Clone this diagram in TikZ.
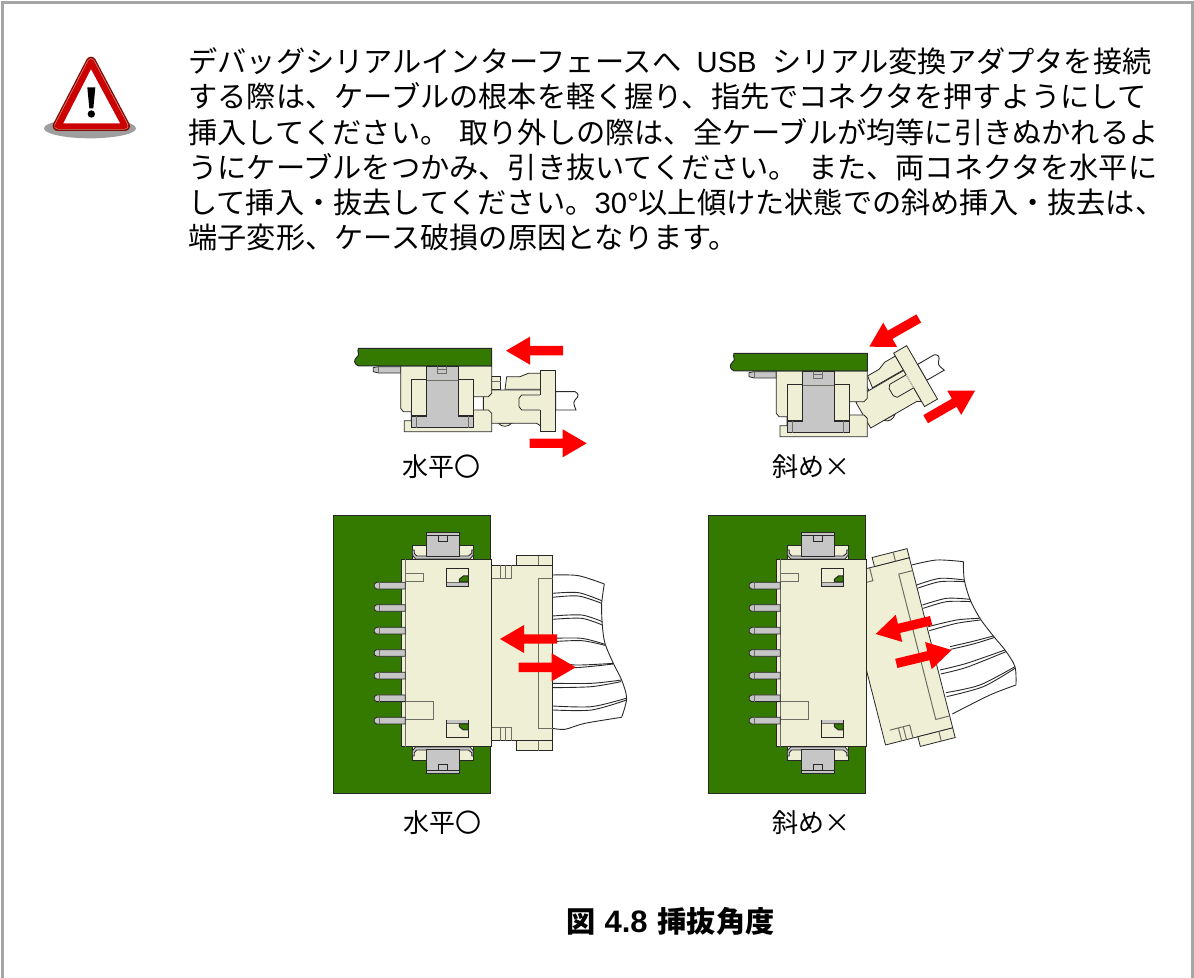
\documentclass[tikz,border=0pt]{standalone}
\usepackage{fontspec}
\setmainfont{Noto Sans CJK JP}
\newfontfamily\latinfont{Liberation Sans}
\XeTeXlinebreaklocale "ja"
\XeTeXlinebreakskip=0pt plus 0.5pt minus 0.3pt
\definecolor{boardgreen}{RGB}{53,122,0}
\definecolor{housing}{RGB}{239,239,214}
\definecolor{metal}{RGB}{198,198,198}
\definecolor{edge}{RGB}{40,40,40}
\definecolor{softedge}{RGB}{110,110,100}
\definecolor{warnred}{RGB}{204,0,0}
\definecolor{warndark}{RGB}{130,10,10}
\definecolor{warntan}{RGB}{214,130,100}
\definecolor{shadowgray}{RGB}{158,158,158}
\definecolor{framegray}{RGB}{165,165,165}
\tikzset{
pcb/.style={draw=edge,fill=boardgreen,line width=0.5pt},
body/.style={draw=edge,fill=housing,line width=0.4pt},
pinpart/.style={draw=edge,fill=metal,line width=0.4pt},
soft/.style={draw=softedge,line width=0.5pt},
wire/.style={draw=edge,line width=0.45pt},
bodyline/.style={anchor=base west,inner sep=0pt,font=\fontsize{14.6pt}{17pt}\selectfont},
partlabel/.style={anchor=base,inner sep=0pt,font=\fontsize{13pt}{15pt}\selectfont},
redarrow/.pic={
  \fill[red] (0,0) -- (24,-14) -- (24,-4.7) -- (57,-4.7) -- (57,4.7) -- (24,4.7) -- (24,14) -- cycle;
  },
warnsign/.pic={
  \fill[shadowgray] (180,265) ellipse [x radius=138,y radius=30];
  \draw[warndark,line join=round,line width=5pt] (183,65) -- (83,258) -- (285,258) -- cycle;
  \draw[warntan,line join=round,line width=3.6pt] (183,65) -- (83,258) -- (285,258) -- cycle;
  \draw[warnred,fill=warnred,line join=round,line width=2.8pt] (183,65) -- (83,258) -- (285,258) -- cycle;
  \fill[white] (183,88) -- (100,250) -- (270,250) -- cycle;
  \fill[black] (172,142) -- (196,142) -- (190,205) -- (178,205) -- cycle;
  \fill[black] (184,222) circle [radius=11];
  },
plugtop/.pic={
  \draw[body] (-208,0) -- (0,0) -- (0,527) -- (-208,527) -- cycle;
  \draw[body] (-108,-28) -- (0,-28) -- (0,0) -- (-108,0) -- cycle;
  \draw[body] (-108,527) -- (0,527) -- (0,557) -- (-108,557) -- cycle;
  \draw[soft] (-43,-28) -- (-43,0);
  \draw[soft] (-43,527) -- (-43,557);
  \draw[soft] (0,40) -- (-43,40) -- (-43,490) -- (0,490);
  \draw[soft] (-185,40) -- (-123,40) -- (-123,0);
  \draw[soft] (-158,0) -- (-158,40);
  \draw[soft] (-143,0) -- (-143,40);
  \draw[soft] (-185,487) -- (-123,487) -- (-123,527);
  \draw[soft] (-158,487) -- (-158,527);
  \draw[soft] (-143,487) -- (-143,527);
  },
headertop/.pic={
  \draw[pcb] (25,18) rectangle (498,850);
  \draw[body] (262,107) rectangle (445,148);
  \draw[body] (262,710) rectangle (445,751);
  \draw[pinpart] (262,120) -- (262,135) -- (272,147) -- (435,147) -- (445,135) -- (445,120) -- (440,120) -- (440,130) -- (430,138) -- (275,138) -- (268,130) -- (268,120) -- cycle;
  \draw[pinpart] (262,738) -- (262,723) -- (272,711) -- (435,711) -- (445,723) -- (445,738) -- (440,738) -- (440,728) -- (430,720) -- (275,720) -- (268,728) -- (268,738) -- cycle;
  \draw[pinpart] (305,68) rectangle (403,140);
  \draw[pinpart] (305,68) rectangle (403,76);
  \draw[pinpart] (340,76) rectangle (366,94);
  \draw[pinpart] (305,718) rectangle (403,790);
  \draw[pinpart] (305,782) rectangle (403,790);
  \draw[pinpart] (340,764) rectangle (366,782);
  \draw[body] (230,148) rectangle (498,710);
  \draw[soft] (241,148) -- (241,710);
  \draw[soft] (242,190) -- (295,190) -- (295,214) -- (242,214);
  \draw[soft] (242,574) -- (327,574) -- (327,630) -- (242,630);
  \foreach \pinpos in {227,294,362,429,497,565,632} {
    \draw[pinpart] (148,\pinpos-5) -- (155,\pinpos-10) -- (241,\pinpos-10) -- (241,\pinpos+10) -- (155,\pinpos+10) -- (148,\pinpos+5) -- cycle;
    \draw[soft] (163,\pinpos-10) -- (163,\pinpos+10);
  }
  \draw[body] (365,175) rectangle (430,228);
  \fill[metal] (365,218) rectangle (430,228);
  \draw[soft] (365,218) -- (430,218);
  \draw[pcb] (430,198) -- (415,198) -- (403,208) -- (403,216) -- (430,216) -- cycle;
  \draw[body] (365,630) rectangle (430,683);
  \fill[metal] (365,630) rectangle (430,640);
  \draw[soft] (365,640) -- (430,640);
  \draw[pcb] (430,660) -- (415,660) -- (403,650) -- (403,642) -- (430,642) -- cycle;
  },
plugside/.pic={
  \draw[wire,fill=white] (0,65) -- (58,65) .. controls (68,70) and (72,78) .. (58,90) .. controls (50,100) and (58,110) .. (61,120) -- (0,120) -- cycle;
  \draw[body] (-172,160) .. controls (-160,172) and (-145,172) .. (-132,160) -- cycle;
  \draw[body] (-194,18) rectangle (-165,58);
  \draw[soft] (-194,35) -- (-165,35);
  \draw[body] (-152,58) -- (-147,20) -- (-107,20) -- (-82,10) -- (-45,10) -- (-45,58) -- cycle;
  \draw[body] (-217,72) -- (-192,60) -- (-45,60) -- (-45,168) -- (-57,160) -- (-217,160) -- cycle;
  \draw[body] (-45,75) -- (-102,75) -- (-110,85) -- (-110,110) -- (-102,120) -- (-45,120);
  \draw[body] (-45,0) -- (0,0) -- (0,185) -- (-45,185) -- cycle;
  \fill[housing] (-46,76) rectangle (-44,119);
  },
headerside/.pic={
  \draw[pinpart] (100,203) -- (115,200) -- (182,200) -- (182,219) -- (115,219) -- (100,215) -- cycle;
  \draw[soft] (115,200) -- (115,219);
  \draw[body] (193,362) -- (214,362) -- (214,330) -- (445,330) -- (455,340) -- (455,395) -- (193,395) -- cycle;
  \draw[body] (182,198) -- (455,198) -- (455,280) -- (445,290) -- (400,290) -- (400,335) -- (190,335) -- (182,325) -- cycle;
  \draw[pinpart] (260,198) -- (355,198) -- (355,348) -- (400,348) -- (400,383) -- (214,383) -- (214,348) -- (260,348) -- cycle;
  \draw[soft] (260,243) -- (355,243);
  \draw[soft] (293,198) rectangle (320,222);
  \draw[soft] (293,210) -- (320,210);
  \draw[soft] (230,348) -- (230,383);
  \draw[soft] (385,348) -- (385,383);
  \draw[body] (214,238) rectangle (260,346);
  \draw[body] (355,238) rectangle (400,346);
  \draw[pcb] (55,145) -- (455,145) -- (455,198) -- (55,198) .. controls (40,190) and (42,180) .. (50,172) .. controls (62,165) and (50,155) .. (55,145) -- cycle;
  },
wirestraight/.pic={
  \draw[wire] plot[smooth] coordinates {(683,195) (760,197) (838,222)};
  \draw[wire] plot[smooth] coordinates {(838,222) (830,282) (832,345) (840,400) (865,460) (890,510) (905,565) (890,622)};
  \draw[wire] plot[smooth] coordinates {(683,655) (720,658) (780,640) (890,622)};
  \draw[wire] plot[smooth] coordinates {(683,250) (760,248) (830,272)};
  \draw[wire] plot[smooth] coordinates {(683,262) (760,258) (830,280)};
  \draw[wire] plot[smooth] coordinates {(683,318) (770,315) (832,335)};
  \draw[wire] plot[smooth] coordinates {(683,328) (770,325) (832,345)};
  \draw[wire] plot[smooth] coordinates {(683,385) (770,385) (840,403)};
  \draw[wire] plot[smooth] coordinates {(683,395) (770,392) (840,406)};
  \draw[wire] plot[smooth] coordinates {(683,452) (750,465) (865,460)};
  \draw[wire] plot[smooth] coordinates {(683,464) (750,473) (865,462)};
  \draw[wire] plot[smooth] coordinates {(683,520) (800,520) (890,510)};
  \draw[wire] plot[smooth] coordinates {(683,533) (800,530) (888,515)};
  \draw[wire] plot[smooth] coordinates {(683,588) (800,590) (903,565)};
  \draw[wire] plot[smooth] coordinates {(683,600) (800,600) (905,570)};
  },
wiretilted/.pic={
  \draw[wire] plot[smooth] coordinates {(635,165) (710,150) (790,155)};
  \draw[wire] plot[smooth] coordinates {(790,155) (793,210) (810,268) (840,325) (880,378) (915,420) (945,470) (948,525)};
  \draw[wire] plot[smooth] coordinates {(757,612) (870,555) (948,525)};
  \draw[wire] plot[smooth] coordinates {(650,225) (720,205) (793,210)};
  \draw[wire] plot[smooth] coordinates {(652,235) (720,215) (795,215)};
  \draw[wire] plot[smooth] coordinates {(668,285) (740,265) (810,268)};
  \draw[wire] plot[smooth] coordinates {(670,295) (740,275) (813,275)};
  \draw[wire] plot[smooth] coordinates {(685,350) (770,330) (838,325)};
  \draw[wire] plot[smooth] coordinates {(688,362) (770,340) (842,330)};
  \draw[wire] plot[smooth] coordinates {(750,410) (815,395) (880,378)};
  \draw[wire] plot[smooth] coordinates {(752,418) (820,402) (885,382)};
  \draw[wire] plot[smooth] coordinates {(720,480) (800,460) (915,420)};
  \draw[wire] plot[smooth] coordinates {(722,492) (800,472) (918,425)};
  \draw[wire] plot[smooth] coordinates {(738,548) (840,525) (945,470)};
  \draw[wire] plot[smooth] coordinates {(740,560) (850,530) (945,475)};
  }
}
\newcommand{\fullline}[1]{\makebox[481.5pt][s]{#1}}
\begin{document}
\begin{tikzpicture}[x=0.5pt,y=-0.5pt]
\useasboundingbox (0,0) rectangle (1194,978);
\draw[framegray,line width=1.5pt] (2.5,978) -- (2.5,2.5) -- (1192.8,2.5) -- (1192.8,978);

\pic[scale=0.3333] at (30,40) {warnsign};

\node[bodyline] (line1) at (188,73) {\fullline{デバッグシリアルインターフェースへ\hspace{6pt plus 3pt}{\latinfont USB}\hspace{6pt plus 3pt}シリアル変換アダプタを接続}};
\node[bodyline] (line2) at (188,108) {\fullline{する際は、ケーブルの根本を軽く握り、指先でコネクタを押すようにして}};
\node[bodyline] (line3) at (188,143.2) {\fullline{挿入してください。\hspace{5pt}取り外しの際は、全ケーブルが均等に引きぬかれるよ}};
\node[bodyline] (line4) at (188,178.4) {\fullline{うにケーブルをつかみ、引き抜いてください。\hspace{5pt}また、両コネクタを水平に}};
\node[bodyline] (line5) at (188,213.6) {\fullline{して挿入・抜去してください。{\latinfont 30°}以上傾けた状態での斜め挿入・抜去は、}};
\node[bodyline] (line6) at (188,248.8) {端子変形、ケース破損の原因となります。};

\pic[scale=0.3333] at (555.67,370) {plugside};
\pic[scale=0.3333] at (340,300) {headerside};
\pic at (506,350.7) {redarrow};
\pic[rotate=180] at (586.7,443.3) {redarrow};
\node[partlabel] (sideok) at (441,476) {水平〇};

\pic[scale=0.3333,rotate=30] at (906.67,345.67) {plugside};
\pic[scale=0.3333] at (715.67,305) {headerside};
\pic[rotate=29.7] at (869.3,346.7) {redarrow};
\pic[rotate=210] at (975,390.7) {redarrow};
\node[partlabel] (sideng) at (811,476) {斜め×};

\pic[scale=0.3333] at (325,510) {wirestraight};
\pic[scale=0.3333] at (552.67,565) {plugtop};
\pic[scale=0.3333] at (325,510) {headertop};
\pic at (500,639) {redarrow};
\pic[rotate=180] at (575.7,667.3) {redarrow};
\node[partlabel] (topok) at (442,832) {水平〇};

\pic[scale=0.3333] at (700,510) {wiretilted};
\pic[scale=0.3333,rotate=14.3] at (909.33,557.67) {plugtop};
\pic[scale=0.3333] at (700,510) {headertop};
\pic[rotate=13.6] at (875.7,634) {redarrow};
\pic[rotate=193.6] at (951.7,650) {redarrow};
\node[partlabel] (topng) at (811,832) {斜め×};

\node[anchor=base west,inner sep=0pt,font=\fontsize{14.6pt}{17pt}\selectfont\bfseries] (caption) at (566,932) {図\hspace{4.5pt}{\latinfont\fontsize{15.5pt}{17pt}\selectfont 4.8}\hspace{5pt}挿抜角度};
\end{tikzpicture}
\end{document}
